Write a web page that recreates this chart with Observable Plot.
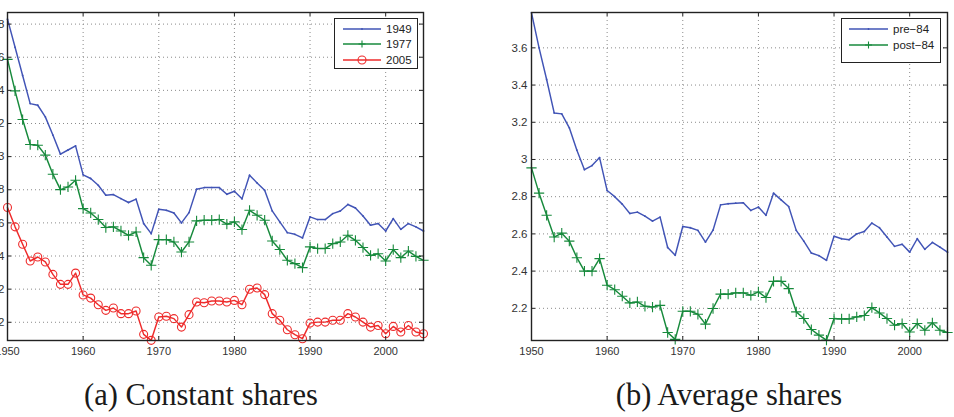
<!DOCTYPE html>
<html><head><meta charset="utf-8">
<script src="https://cdn.jsdelivr.net/npm/d3@7"></script>
<script src="https://cdn.jsdelivr.net/npm/@observablehq/plot@0.6"></script>
<style>
body{margin:0;background:#fff;}
#root{position:relative;width:954px;height:417px;overflow:hidden;background:#fff;font-family:Arial,"Liberation Sans",sans-serif;}
.panel{position:absolute;top:0;height:365px;overflow:hidden;}
.panel svg.plot-svg{position:absolute;top:0;max-width:none !important;}
.cap{position:absolute;top:378px;font-family:"Liberation Serif","DejaVu Serif",serif;font-size:30.5px;white-space:nowrap;transform:translateX(-50%);color:#1a1a1a;}
.legend{position:absolute;background:#fff;border:1px solid #222;box-sizing:border-box;}
.legend svg{position:absolute;left:0;top:0;}
</style></head>
<body><div id="root"></div>
<script>
const years = [1950,1951,1952,1953,1954,1955,1956,1957,1958,1959,
  1960,1961,1962,1963,1964,1965,1966,1967,1968,1969,
  1970,1971,1972,1973,1974,1975,1976,1977,1978,1979,
  1980,1981,1982,1983,1984,1985,1986,1987,1988,1989,
  1990,1991,1992,1993,1994,1995,1996,1997,1998,1999,
  2000,2001,2002,2003,2004,2005];

// (a) Constant shares
const shares1949 = [3.83,3.66,3.49,3.32,3.31,3.24,3.13,3.015,3.04,3.065,
  2.89,2.868,2.827,2.767,2.771,2.747,2.723,2.743,2.596,2.535,
  2.682,2.676,2.66,2.60,2.662,2.803,2.813,2.813,2.813,2.773,
  2.791,2.745,2.888,2.841,2.797,2.672,2.606,2.541,2.531,2.509,
  2.636,2.62,2.62,2.656,2.672,2.711,2.69,2.642,2.586,2.596,
  2.551,2.626,2.561,2.596,2.576,2.551];
const shares1977 = [3.587,3.397,3.224,3.073,3.069,3.009,2.894,2.801,2.817,2.857,
  2.686,2.66,2.62,2.572,2.576,2.551,2.525,2.545,2.39,2.344,
  2.499,2.499,2.485,2.424,2.485,2.612,2.616,2.616,2.62,2.592,
  2.606,2.56,2.676,2.646,2.616,2.491,2.439,2.374,2.354,2.33,
  2.455,2.445,2.445,2.475,2.485,2.525,2.495,2.451,2.404,2.414,
  2.37,2.439,2.39,2.43,2.398,2.374];
const shares2005 = [2.693,2.576,2.471,2.37,2.394,2.364,2.289,2.229,2.229,2.297,
  2.165,2.146,2.106,2.072,2.086,2.052,2.052,2.068,1.927,1.891,
  2.032,2.036,2.022,1.971,2.046,2.122,2.118,2.128,2.128,2.122,
  2.132,2.106,2.199,2.207,2.167,2.052,2.012,1.955,1.925,1.901,
  1.995,2.001,2.001,2.012,2.012,2.052,2.032,2.001,1.971,1.981,
  1.931,1.975,1.941,1.981,1.941,1.931];

// (b) Average shares
const pre84 = [3.788,3.60,3.43,3.25,3.245,3.17,3.05,2.945,2.967,3.01,
  2.833,2.80,2.76,2.71,2.717,2.695,2.669,2.69,2.527,2.485,
  2.64,2.633,2.619,2.556,2.62,2.756,2.762,2.765,2.767,2.726,
  2.744,2.70,2.819,2.783,2.747,2.619,2.561,2.497,2.483,2.458,
  2.587,2.574,2.569,2.60,2.613,2.658,2.633,2.583,2.533,2.544,
  2.502,2.574,2.517,2.554,2.529,2.502];
const post84 = [2.955,2.819,2.70,2.583,2.604,2.561,2.472,2.40,2.40,2.467,
  2.324,2.30,2.265,2.229,2.234,2.211,2.207,2.216,2.07,2.033,
  2.184,2.184,2.168,2.115,2.199,2.276,2.276,2.283,2.283,2.27,
  2.288,2.258,2.345,2.345,2.306,2.181,2.145,2.086,2.056,2.029,
  2.145,2.143,2.143,2.154,2.161,2.204,2.175,2.145,2.109,2.118,
  2.073,2.118,2.082,2.122,2.082,2.07];

const xTicks = [1950,1960,1970,1980,1990,2000];
const yTicksA = [2.0,2.2,2.4,2.6,2.8,3.0,3.2,3.4,3.6,3.8];
const yTicksB = [2.2,2.4,2.6,2.8,3.0,3.2,3.4,3.6];
const namesA = ["1949","1977","2005"];
const namesB = ["pre\u221284","post\u221284"];
const captions = ["(a) Constant shares","(b) Average shares"];

const BLUE = "#4154b6", GREEN = "#178a3c", RED = "#ee2b2b";

function table(arr){ return years.map((yr,i)=>({year: yr, value: arr[i]})); }

function seriesMarks(arr, kind, color){
  const d = table(arr);
  const m = [Plot.line(d, {x:"year", y:"value", stroke: color, strokeWidth: 1.45})];
  if (kind === "dot") m.push(Plot.dot(d, {x:"year", y:"value", r: 0.9, fill: color}));
  if (kind === "plus") m.push(Plot.dot(d, {x:"year", y:"value", symbol:"plus", r: 3.4, stroke: color, strokeWidth: 1.1}));
  if (kind === "circle") m.push(Plot.dot(d, {x:"year", y:"value", r: 4, stroke: color, fill: "none", strokeWidth: 1.1}));
  return m;
}

function makePanel({series, yDomain, yTicks, width, mLeft, mRight, yPad}){
  const h = 365, mt = 12, mb = 25;
  const pw = width - mLeft - mRight, ph = h - mt - mb;
  const tl = 4;
  const fmt = d => String(+d.toFixed(1));
  return Plot.plot({
    width, height: h, marginLeft: mLeft, marginRight: mRight, marginTop: mt, marginBottom: mb,
    style: {fontFamily: "Arial, 'Liberation Sans', sans-serif", background: "transparent", overflow: "visible", maxWidth: "none"},
    x: {domain: [1950, 2005], label: null},
    y: {domain: yDomain, label: null},
    marks: [
      Plot.gridX(xTicks, {stroke: "#8a8a8a", strokeOpacity: 1, strokeDasharray: "1,3", strokeWidth: 1}),
      Plot.gridY(yTicks, {stroke: "#8a8a8a", strokeOpacity: 1, strokeDasharray: "1,3", strokeWidth: 1}),
      ...series.flatMap(s => seriesMarks(s.arr, s.kind, s.color)),
      Plot.tickX(xTicks, {x: d=>d, insetTop: ph - tl, stroke: "#222", strokeWidth: 1}),
      Plot.tickX(xTicks, {x: d=>d, insetBottom: ph - tl, stroke: "#222", strokeWidth: 1}),
      Plot.tickY(yTicks, {y: d=>d, insetRight: pw - tl, stroke: "#222", strokeWidth: 1}),
      Plot.tickY(yTicks, {y: d=>d, insetLeft: pw - tl, stroke: "#222", strokeWidth: 1}),
      Plot.frame({stroke: "#222", strokeWidth: 1.4}),
      Plot.axisX(xTicks, {tickSize: 0, tickPadding: 7, fontSize: 11, fill: "#333", label: null, tickFormat: d => String(d)}),
      Plot.axisY(yTicks, {tickSize: 0, tickPadding: yPad, fontSize: 11.5, fill: "#333", label: null, tickFormat: fmt})
    ]
  });
}

const root = document.getElementById("root");

// Panel (a)
const wrapA = document.createElement("div");
wrapA.className = "panel"; wrapA.style.left = "0px"; wrapA.style.width = "440px";
const svgA = makePanel({
  series: [{arr: shares1949, kind: "dot", color: BLUE},
           {arr: shares1977, kind: "plus", color: GREEN},
           {arr: shares2005, kind: "circle", color: RED}],
  yDomain: [1.89, 3.87], yTicks: yTicksA, width: 480, mLeft: 47, mRight: 17, yPad: 3
});
svgA.classList.add("plot-svg");
svgA.style.left = "-40px";
svgA.style.maxWidth = "none";
wrapA.appendChild(svgA);
root.appendChild(wrapA);

// Panel (b)
const wrapB = document.createElement("div");
wrapB.className = "panel"; wrapB.style.left = "490px"; wrapB.style.width = "464px";
const svgB = makePanel({
  series: [{arr: pre84, kind: "dot", color: BLUE},
           {arr: post84, kind: "plus", color: GREEN}],
  yDomain: [2.027, 3.79], yTicks: yTicksB, width: 464, mLeft: 41, mRight: 7, yPad: 4
});
svgB.classList.add("plot-svg");
svgB.style.left = "0px";
svgB.style.maxWidth = "none";
wrapB.appendChild(svgB);
root.appendChild(wrapB);

// Legends
function legend(left, top, w, h, names, kinds, colors, rowYs, x0, x1, tx){
  const div = document.createElement("div");
  div.className = "legend";
  Object.assign(div.style, {left: left+"px", top: top+"px", width: w+"px", height: h+"px"});
  const ns = "http://www.w3.org/2000/svg";
  const svg = document.createElementNS(ns, "svg");
  svg.setAttribute("width", w); svg.setAttribute("height", h);
  names.forEach((nm, i) => {
    const y = rowYs[i];
    const ln = document.createElementNS(ns, "line");
    ln.setAttribute("x1", x0); ln.setAttribute("x2", x1); ln.setAttribute("y1", y); ln.setAttribute("y2", y);
    ln.setAttribute("stroke", colors[i]); ln.setAttribute("stroke-width", 1.4);
    svg.appendChild(ln);
    const cx = (x0 + x1) / 2;
    if (kinds[i] === "dot") {
      const c = document.createElementNS(ns, "circle");
      c.setAttribute("cx", cx); c.setAttribute("cy", y); c.setAttribute("r", 0.9); c.setAttribute("fill", colors[i]);
      svg.appendChild(c);
    } else if (kinds[i] === "plus") {
      const p = document.createElementNS(ns, "path");
      p.setAttribute("d", `M${cx-3.5},${y}H${cx+3.5}M${cx},${y-3.5}V${y+3.5}`);
      p.setAttribute("stroke", colors[i]); p.setAttribute("stroke-width", 1.1);
      svg.appendChild(p);
    } else if (kinds[i] === "circle") {
      const c = document.createElementNS(ns, "circle");
      c.setAttribute("cx", cx); c.setAttribute("cy", y); c.setAttribute("r", 4); c.setAttribute("fill", "none");
      c.setAttribute("stroke", colors[i]); c.setAttribute("stroke-width", 1.1);
      svg.appendChild(c);
    }
    const t = document.createElementNS(ns, "text");
    t.setAttribute("x", tx); t.setAttribute("y", y); t.setAttribute("dy", "0.35em");
    t.setAttribute("font-size", 11.5); t.setAttribute("fill", "#222");
    t.setAttribute("font-family", "Arial, 'Liberation Sans', sans-serif");
    t.textContent = nm;
    svg.appendChild(t);
  });
  div.appendChild(svg);
  root.appendChild(div);
}
legend(334, 18, 84, 51, namesA, ["dot","plus","circle"], [BLUE, GREEN, RED], [10, 25, 41], 8, 46, 51);
legend(841, 18, 100, 45, namesB, ["dot","plus"], [BLUE, GREEN], [10, 26], 7, 46, 51);

// Captions
[[201, captions[0]], [729, captions[1]]].forEach(([cx, txt]) => {
  const c = document.createElement("div");
  c.className = "cap"; c.style.left = cx + "px"; c.textContent = txt;
  root.appendChild(c);
});
</script>
</body></html>
